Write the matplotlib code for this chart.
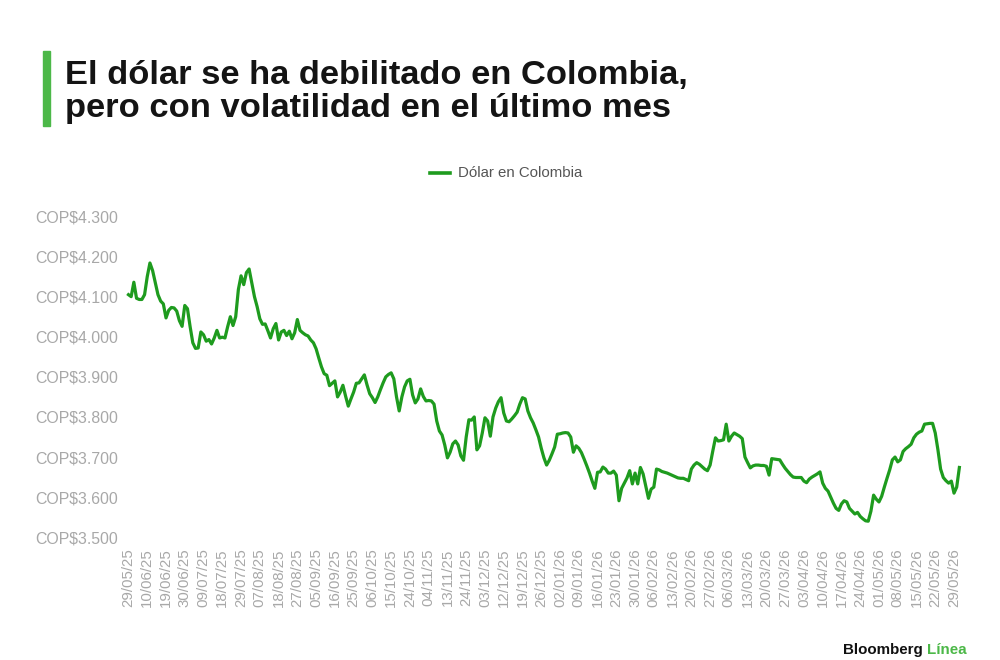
import matplotlib
matplotlib.use("Agg")
import matplotlib.pyplot as plt

# Dólar en Colombia, cierre diario (COP por USD)
fechas = [
    "29/05/25", "10/06/25", "19/06/25", "30/06/25", "09/07/25", "18/07/25",
    "29/07/25", "07/08/25", "18/08/25", "27/08/25", "05/09/25", "16/09/25",
    "25/09/25", "06/10/25", "15/10/25", "24/10/25", "04/11/25", "13/11/25",
    "24/11/25", "03/12/25", "12/12/25", "19/12/25", "26/12/25", "02/01/26",
    "09/01/26", "16/01/26", "23/01/26", "30/01/26", "06/02/26", "13/02/26",
    "20/02/26", "27/02/26", "06/03/26", "13/03/26", "20/03/26", "27/03/26",
    "03/04/26", "10/04/26", "17/04/26", "24/04/26", "01/05/26", "08/05/26",
    "15/05/26", "22/05/26", "29/05/26",
]

dolar = [
    4105, 4100, 4136, 4096, 4093, 4093, 4105,
    4150, 4184, 4165, 4135, 4105, 4089, 4082,
    4047, 4066, 4073, 4072, 4064, 4040, 4026,
    4078, 4070, 4025, 3985, 3971, 3972, 4012,
    4005, 3989, 3993, 3982, 3997, 4016, 3997,
    3999, 3997, 4025, 4050, 4028, 4050, 4118,
    4152, 4130, 4160, 4169, 4135, 4100, 4075,
    4045, 4031, 4032, 4015, 3997, 4020, 4033,
    3992, 4012, 4016, 4003, 4014, 3995, 4010,
    4043, 4016, 4010, 4005, 4002, 3992, 3985,
    3970, 3947, 3925, 3908, 3904, 3878, 3884,
    3890, 3850, 3862, 3879, 3852, 3827, 3845,
    3862, 3884, 3885, 3895, 3905, 3880, 3858,
    3848, 3836, 3850, 3868, 3885, 3900, 3906,
    3910, 3895, 3850, 3815, 3850, 3875, 3890,
    3894, 3855, 3835, 3845, 3870, 3851, 3840,
    3841, 3840, 3832, 3790, 3765, 3755, 3730,
    3698, 3712, 3733, 3740, 3730, 3703, 3692,
    3750, 3793, 3792, 3800, 3718, 3728, 3760,
    3798, 3790, 3752, 3800, 3822, 3838, 3848,
    3810, 3790, 3788, 3795, 3803, 3812, 3832,
    3848, 3845, 3815, 3798, 3785, 3768, 3750,
    3722, 3698, 3680, 3692, 3708, 3725, 3757,
    3758, 3760, 3761, 3760, 3750, 3712, 3728,
    3722, 3711, 3695, 3678, 3660, 3640, 3622,
    3662, 3663, 3675, 3670, 3660, 3660, 3665,
    3655, 3591, 3622, 3635, 3648, 3666, 3633,
    3660, 3633, 3674, 3658, 3628, 3597, 3620,
    3625, 3670, 3668, 3664, 3662, 3660, 3657,
    3654, 3651, 3648, 3647, 3647, 3644, 3641,
    3670, 3680, 3686, 3682, 3676, 3670, 3666,
    3680, 3715, 3748, 3740, 3741, 3743, 3782,
    3740, 3752, 3760, 3756, 3752, 3746, 3700,
    3686, 3673, 3678, 3680, 3680, 3679, 3679,
    3677, 3655, 3696, 3695, 3694, 3693, 3682,
    3672, 3664, 3656, 3650, 3649, 3649, 3649,
    3640, 3636, 3645, 3650, 3654, 3658, 3663,
    3635, 3622, 3615, 3600, 3585, 3572, 3567,
    3583, 3591, 3588, 3572, 3565, 3558, 3562,
    3552, 3546, 3541, 3540, 3565, 3605, 3595,
    3588, 3602, 3625, 3647, 3668, 3693, 3700,
    3688, 3693, 3714, 3721, 3726, 3732, 3748,
    3757, 3762, 3765, 3782, 3783, 3784, 3784,
    3760, 3718, 3670, 3649, 3641, 3635, 3640,
    3610, 3625, 3674,
]

yticks = [3500, 3600, 3700, 3800, 3900, 4000, 4100, 4200, 4300]

VERDE = "#1e9b1e"
VERDE_CLARO = "#4cb848"
GRIS = "#a8a8a8"

plt.rcParams["font.family"] = ["Liberation Sans", "DejaVu Sans"]

fig = plt.figure(figsize=(10, 6.6), dpi=100)
ax = fig.add_axes([0.125, 0.186, 0.84, 0.486])

x = list(range(len(dolar)))
ax.plot(x, dolar, color=VERDE, lw=2.3, solid_joinstyle="round")

ax.set_ylim(3500, 4300)
ax.set_xlim(-1.3, 312.1)
ax.set_yticks(yticks)
ax.set_yticklabels([f"COP${v // 1000}.{v % 1000:03d}" for v in yticks])
ax.set_xticks(range(0, 7 * len(fechas), 7))
ax.set_xticklabels(fechas, rotation=90)
ax.tick_params(axis="y", length=0, pad=5, labelsize=11.4, labelcolor=GRIS)
ax.tick_params(axis="x", length=0, pad=8, labelsize=10.8, labelcolor=GRIS)
for s in ax.spines.values():
    s.set_visible(False)

# titulo con barra verde
fig.patches.append(plt.Rectangle((0.043, 0.809), 0.007, 0.113, transform=fig.transFigure,
                                 color=VERDE_CLARO))
fig.text(0.065, 0.873, "El dólar se ha debilitado en Colombia,", weight="bold",
         fontsize=24.8, color="#141414", va="baseline", ha="left")
fig.text(0.065, 0.822, "pero con volatilidad en el último mes", weight="bold",
         fontsize=24.8, color="#141414", va="baseline", ha="left")

# leyenda
fig.lines.append(plt.Line2D([0.430, 0.450], [0.738, 0.738], transform=fig.transFigure,
                            color=VERDE, lw=2.6))
fig.text(0.458, 0.738, "Dólar en Colombia", fontsize=10.8, color="#555555", va="center")

# firma
t = fig.text(0.843, 0.009, "Bloomberg ", fontsize=10.9, weight="bold", color="#111111",
             va="baseline")
fig.canvas.draw()
bb = t.get_window_extent()
fig.text(bb.x1 / fig.bbox.width, 0.009, "Línea", fontsize=10.9, weight="bold",
         color=VERDE_CLARO, va="baseline")

fig.savefig("out.png", dpi=100)
